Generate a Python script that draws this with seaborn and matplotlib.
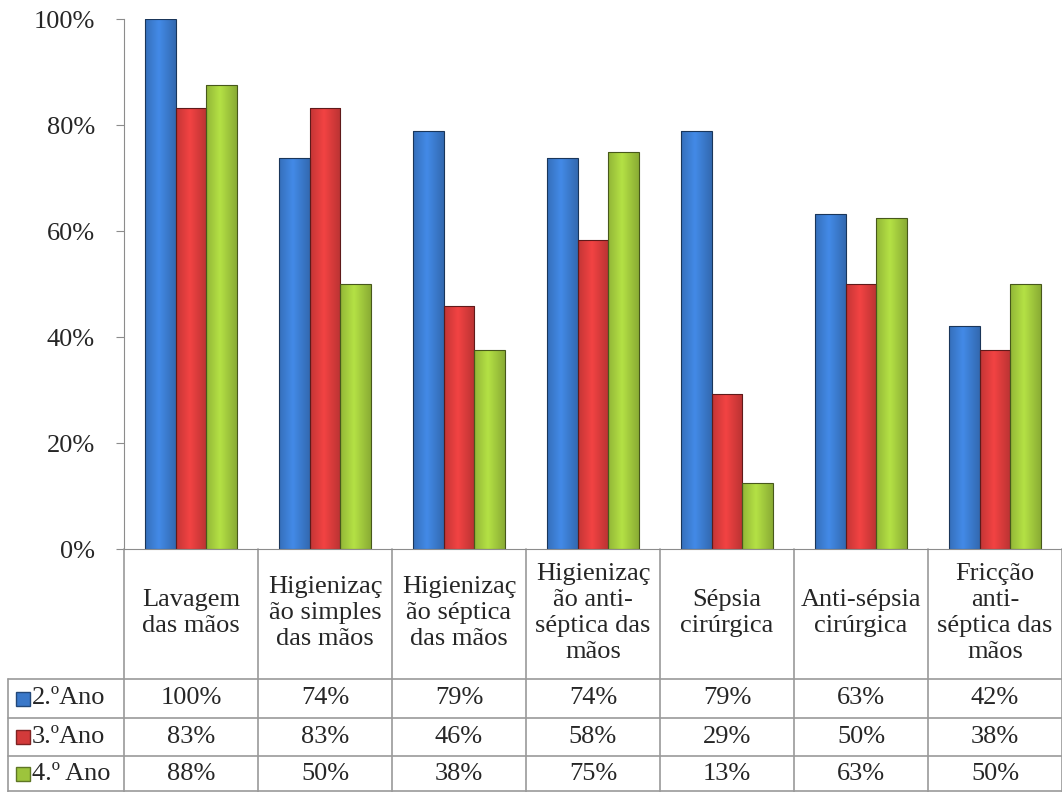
import matplotlib
matplotlib.use('Agg')
import matplotlib.pyplot as plt
import matplotlib.colors as mcolors
import numpy as np
import pandas as pd
import seaborn as sns

# data
categories = ['Lavagem\ndas mãos', 'Higienizaç\não simples\ndas mãos',
              'Higienizaç\não séptica\ndas mãos', 'Higienizaç\não anti-\nséptica das\nmãos',
              'Sépsia\ncirúrgica', 'Anti-sépsia\ncirúrgica',
              'Fricção\nanti-\nséptica das\nmãos']
series = ['2.ºAno', '3.ºAno', '4.º Ano']
ano2 = [100, 73.7, 78.9, 73.7, 78.9, 63.2, 42.1]
ano3 = [83.3, 83.3, 45.8, 58.3, 29.2, 50.0, 37.5]
ano4 = [87.5, 50.0, 37.5, 75.0, 12.5, 62.5, 50.0]
colors = ['#3A78C9', '#D33A3A', '#9DC43C']

rows = []
for s, vals in zip(series, [ano2, ano3, ano4]):
    for c, v in zip(categories, vals):
        rows.append({'cat': c, 'serie': s, 'val': v})
df = pd.DataFrame(rows)

sns.set_style('white')
plt.rcParams['font.family'] = ['Liberation Serif', 'DejaVu Serif']
FS = 19

W, H = 1062, 792
fig = plt.figure(figsize=(W / 100, H / 100), dpi=100)
ax = fig.add_axes([124 / W, (H - 549) / H, 938 / W, 530 / H])

sns.barplot(data=df, x='cat', y='val', hue='serie', palette=colors, width=0.68,
            saturation=1, legend=False, ax=ax, edgecolor='none')

# shade the bars like the original (dark edges, lighter middle)
for p in ax.patches:
    x0, y0 = p.get_x(), p.get_y()
    w, h = p.get_width(), p.get_height()
    if h <= 0:
        continue
    base = np.array(mcolors.to_rgb(p.get_facecolor()))
    t = np.linspace(0, 1, 64)
    prof = 1 - np.abs(t - 0.45) * 1.1
    grad = np.clip(base[None, :] * (0.7 + 0.45 * prof[:, None]), 0, 1)
    img = ax.imshow(grad[None, :, :], extent=(x0, x0 + w, y0, y0 + h),
                    aspect='auto', zorder=p.get_zorder() + 0.1, interpolation='bicubic')
    img.set_clip_path(p)
    ax.add_patch(plt.Rectangle((x0, y0), w, h, fill=False, lw=0.8,
                               ec=tuple(base * 0.45), zorder=p.get_zorder() + 0.2))

ax.set_xlim(-0.5, len(categories) - 0.5)
ax.set_ylim(0, 100)
ax.set_yticks(range(0, 101, 20))
ax.set_yticklabels([f'{v}%' for v in range(0, 101, 20)], fontsize=FS)
ax.set_xticks([])
ax.set_xlabel('')
ax.set_ylabel('')
for s in ['top', 'right']:
    ax.spines[s].set_visible(False)
for s in ['left', 'bottom']:
    ax.spines[s].set_color('#8C8C8C')
ax.tick_params(axis='y', length=6, color='#8C8C8C', left=True, pad=15)

# data table below the plot
def ay(py):
    return (549 - py) / 530

def axx(px):
    return (px - 124) / 938

lc = '#9A9A9A'
tx = ax.get_xaxis_transform()
for i in range(len(categories) + 1):
    ax.plot([i - 0.5, i - 0.5], [ay(549), ay(792)], transform=tx,
            color=lc, lw=1.2, clip_on=False)
for py in [679, 718, 756, 791]:
    ax.plot([axx(8), 1], [ay(py), ay(py)], transform=ax.transAxes,
            color=lc, lw=1.2, clip_on=False)
ax.plot([axx(8), axx(8)], [ay(679), ay(792)], transform=ax.transAxes,
        color=lc, lw=1.2, clip_on=False)

for i, c in enumerate(categories):
    ax.text(i, ay(613), c, transform=tx, ha='center', va='center',
            fontsize=FS, linespacing=1.22, clip_on=False)

row_y = [698.5, 737, 774]
for r, (s, vals, col) in enumerate(zip(series, [ano2, ano3, ano4], colors)):
    yy = ay(row_y[r])
    ax.plot([axx(23)], [yy], transform=ax.transAxes, marker='s', ms=10,
            mfc=col, mec=tuple(np.array(mcolors.to_rgb(col)) * 0.6),
            clip_on=False)
    ax.text(axx(32), yy, s, transform=ax.transAxes, ha='left', va='center',
            fontsize=FS, clip_on=False)
    for i, v in enumerate(vals):
        ax.text(i, yy, f'{int(np.floor(v + 0.5))}%', transform=tx,
                ha='center', va='center', fontsize=FS, clip_on=False)

fig.savefig('out.png', dpi=100)
